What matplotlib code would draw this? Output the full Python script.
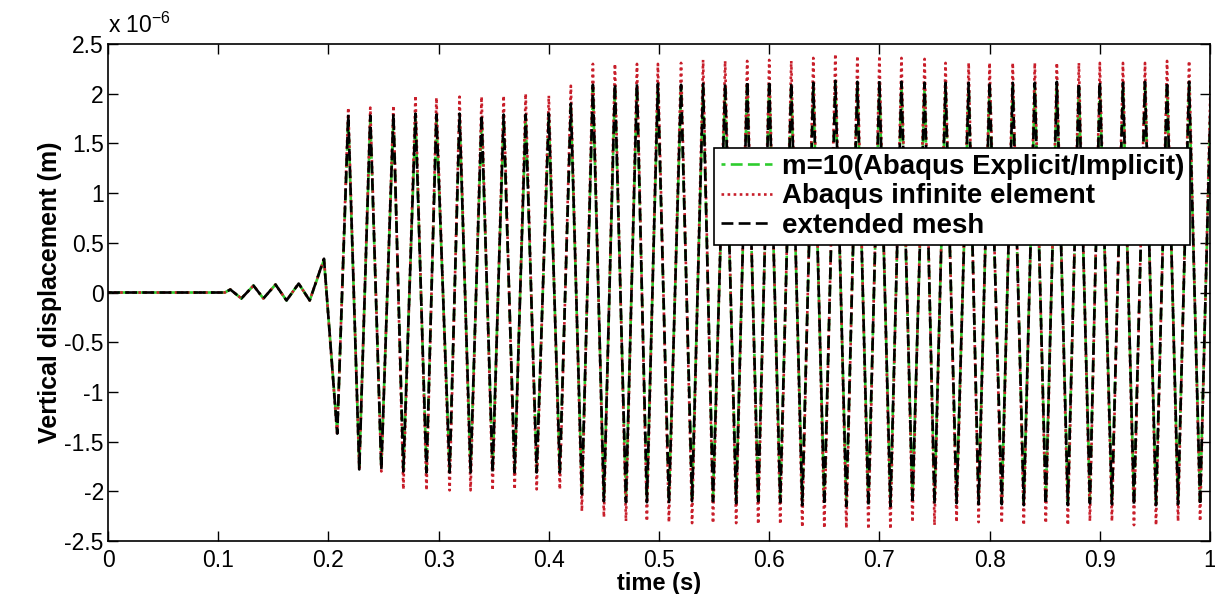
import matplotlib
matplotlib.use('Agg')
import matplotlib.pyplot as plt

plt.rcParams['font.family'] = ['Liberation Sans', 'DejaVu Sans']
plt.rcParams['mathtext.fontset'] = 'custom'
plt.rcParams['mathtext.rm'] = 'Liberation Sans'

# small start-up wiggle before the main response (time s, displacement 1e-6 m)
t_pre = [0.0, 0.106, 0.111, 0.121, 0.132, 0.141, 0.152, 0.162, 0.173, 0.183, 0.196]
pre_black = [0.0, 0.0, 0.03, -0.06, 0.07, -0.06, 0.08, -0.08, 0.09, -0.08, 0.34]
pre_green = [0.0, 0.0, 0.03, -0.06, 0.07, -0.06, 0.08, -0.08, 0.09, -0.08, 0.33]
pre_red = [0.0, 0.0, 0.03, -0.06, 0.07, -0.06, 0.08, -0.08, 0.09, -0.08, 0.34]

# times of the troughs and peaks of the main oscillation
t_trough = [0.208, 0.228, 0.248, 0.268, 0.289, 0.310, 0.329, 0.349, 0.369, 0.389,
            0.410, 0.430, 0.450, 0.470, 0.489, 0.509, 0.530, 0.549, 0.570, 0.590,
            0.610, 0.630, 0.650, 0.670, 0.690, 0.710, 0.730, 0.750, 0.770, 0.790,
            0.811, 0.831, 0.851, 0.871, 0.891, 0.911, 0.931, 0.951, 0.971, 0.991]
t_peak = [0.218, 0.238, 0.259, 0.279, 0.298, 0.319, 0.339, 0.359, 0.379, 0.400,
          0.420, 0.440, 0.460, 0.480, 0.499, 0.520, 0.540, 0.560, 0.580, 0.600,
          0.620, 0.640, 0.660, 0.680, 0.700, 0.720, 0.741, 0.760, 0.781, 0.800,
          0.821, 0.841, 0.861, 0.881, 0.900, 0.921, 0.941, 0.961, 0.981, 1.001]

# extended mesh
black_trough = [-1.42, -1.78, -1.78, -1.80, -1.81, -1.81, -1.81, -1.81, -1.81, -1.81,
                -1.81, -2.03, -2.10, -2.11, -2.11, -2.12, -2.10, -2.10, -2.12, -2.10,
                -2.11, -2.14, -2.14, -2.15, -2.15, -2.15, -2.12, -2.13, -2.12, -2.13,
                -2.13, -2.14, -2.13, -2.14, -2.12, -2.13, -2.14, -2.14, -2.13, -2.14]
black_peak = [1.79, 1.78, 1.80, 1.80, 1.79, 1.80, 1.79, 1.79, 1.79, 1.80,
              1.90, 2.09, 2.10, 2.10, 2.10, 2.09, 2.10, 2.10, 2.13, 2.13,
              2.11, 2.11, 2.13, 2.12, 2.13, 2.12, 2.11, 2.11, 2.11, 2.12,
              2.11, 2.11, 2.12, 2.11, 2.12, 2.11, 2.12, 2.12, 2.12, 2.13]

# m=10 (Abaqus Explicit/Implicit)
green_trough = [-1.40, -1.75, -1.75, -1.77, -1.78, -1.78, -1.78, -1.78, -1.78, -1.78,
                -1.78, -2.00, -2.06, -2.07, -2.07, -2.08, -2.06, -2.06, -2.08, -2.06,
                -2.07, -2.10, -2.10, -2.11, -2.11, -2.11, -2.08, -2.09, -2.08, -2.09,
                -2.09, -2.10, -2.09, -2.10, -2.08, -2.09, -2.10, -2.10, -2.09, -2.10]
green_peak = [1.75, 1.74, 1.76, 1.76, 1.75, 1.76, 1.75, 1.75, 1.75, 1.76,
              1.86, 2.05, 2.06, 2.06, 2.06, 2.05, 2.06, 2.06, 2.09, 2.09,
              2.07, 2.07, 2.09, 2.08, 2.09, 2.08, 2.07, 2.07, 2.07, 2.08,
              2.07, 2.07, 2.08, 2.07, 2.08, 2.07, 2.08, 2.08, 2.08, 2.09]

# Abaqus infinite element
red_trough = [-1.44, -1.79, -1.80, -1.98, -1.99, -1.99, -1.99, -1.99, -1.98, -1.98,
              -1.98, -2.20, -2.26, -2.30, -2.30, -2.31, -2.32, -2.32, -2.32, -2.33,
              -2.33, -2.36, -2.37, -2.37, -2.38, -2.38, -2.31, -2.34, -2.31, -2.31,
              -2.32, -2.34, -2.32, -2.34, -2.30, -2.30, -2.34, -2.34, -2.30, -2.30]
red_peak = [1.86, 1.86, 1.88, 1.98, 1.96, 1.97, 1.97, 1.98, 2.00, 1.98,
            2.08, 2.30, 2.30, 2.30, 2.30, 2.31, 2.34, 2.33, 2.33, 2.34,
            2.33, 2.36, 2.40, 2.38, 2.38, 2.36, 2.35, 2.31, 2.31, 2.31,
            2.31, 2.31, 2.31, 2.31, 2.31, 2.31, 2.31, 2.33, 2.33, 2.35]

labels = ['m=10(Abaqus Explicit/Implicit)', 'Abaqus infinite element', 'extended mesh']


def series(pre, trough, peak):
    t = list(t_pre)
    y = list(pre)
    for tt, yt, tp, yp in zip(t_trough, trough, t_peak, peak):
        t += [tt, tp]
        y += [yt, yp]
    return t, [v * 1e-6 for v in y]


fig = plt.figure(figsize=(12.15, 5.94), dpi=100)
ax = fig.add_axes([0.0889, 0.0892, 0.907, 0.8367])

tg, yg = series(pre_green, green_trough, green_peak)
tr, yr = series(pre_red, red_trough, red_peak)
tb, yb = series(pre_black, black_trough, black_peak)
ax.plot(tg, yg, color='#2ecc2e', lw=1.9, linestyle=(3, (4.5, 2.0)), label=labels[0])
ax.plot(tr, yr, color='#c81e2a', lw=1.9, linestyle=(0, (1, 1.3)), label=labels[1])
ax.plot(tb, yb, color='black', lw=1.9, linestyle=(0, (4.5, 2.0)), label=labels[2])

ax.set_xlim(0, 1)
ax.set_ylim(-2.5e-6, 2.5e-6)
xt = [i / 10 for i in range(11)]
ax.set_xticks(xt)
ax.set_xticklabels(['0', '0.1', '0.2', '0.3', '0.4', '0.5', '0.6', '0.7', '0.8', '0.9', '1'])
yt = [v * 1e-6 for v in [-2.5, -2, -1.5, -1, -0.5, 0, 0.5, 1, 1.5, 2, 2.5]]
ax.set_yticks(yt)
ax.set_yticklabels(['-2.5', '-2', '-1.5', '-1', '-0.5', '0', '0.5', '1', '1.5', '2', '2.5'])
ax.tick_params(direction='in', top=True, right=True, length=7, width=1,
               labelsize=16.5)
ax.tick_params(axis='x', pad=6)
ax.tick_params(axis='y', pad=3)
for s in ax.spines.values():
    s.set_linewidth(1.2)

ax.text(0.0, 1.012, r'x 10$^{-6}$', transform=ax.transAxes, fontsize=16.5,
        ha='left', va='bottom')
ax.set_xlabel('time (s)', fontsize=17, fontweight='bold', labelpad=0)
ax.set_ylabel('Vertical displacement (m)', fontsize=18, fontweight='bold', labelpad=2)

leg = ax.legend(loc='upper right', bbox_to_anchor=(0.982, 0.791),
                prop={'weight': 'bold', 'size': 20}, frameon=True, fancybox=False,
                framealpha=1, edgecolor='black', handlelength=1.85,
                handletextpad=0.35, labelspacing=0.12, borderpad=0.22,
                borderaxespad=0)
leg.get_frame().set_linewidth(1.2)

fig.savefig('out.png', dpi=100)
